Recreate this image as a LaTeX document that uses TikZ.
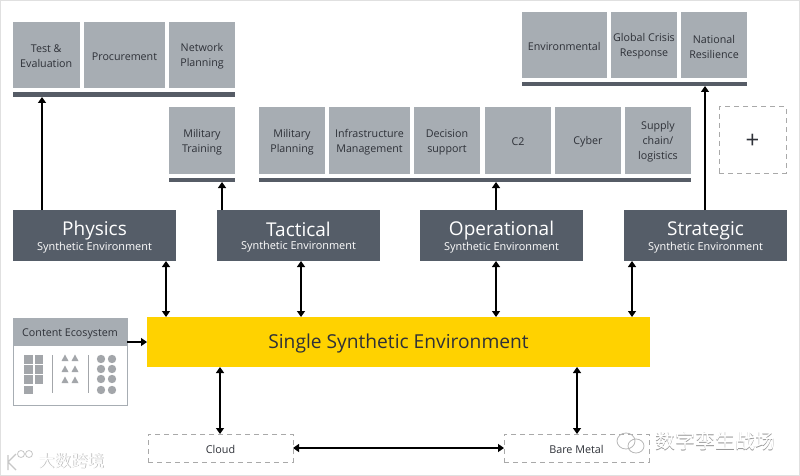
\documentclass[tikz,border=0pt]{standalone}
\usepackage{fontspec}
\setmainfont{Open Sans}
\newfontfamily\cjkfont{Noto Sans CJK SC}
\usetikzlibrary{arrows.meta}
\definecolor{boxgrey}{HTML}{A7ADB3}
\definecolor{bardark}{HTML}{565C66}
\definecolor{headdark}{HTML}{555D68}
\definecolor{inkdark}{HTML}{2E3138}
\definecolor{eyyellow}{HTML}{FFD200}
\definecolor{dashgrey}{HTML}{A9A9A9}
\definecolor{icongrey}{HTML}{A3A6AA}
\tikzset{
  x=1pt,y=-1pt,
  base/.style={inner sep=0pt,outer sep=0pt,align=center,anchor=center},
  gbox/.style={base,fill=boxgrey},
  gtext/.style={base,text=inkdark,font=\fontsize{10.7}{15}\selectfont},
  barbox/.style={base,fill=bardark},
  headbox/.style={base,fill=headdark},
  headtext/.style={base,text=white},
  dashbox/.style={base,draw=dashgrey,line width=1pt,dash pattern=on 5pt off 4pt,fill=white},
  dashtext/.style={base,text=inkdark,font=\fontsize{10.8}{13}\selectfont},
  yellowbox/.style={base,fill=eyyellow},
  yellowtext/.style={base,text=inkdark,font=\fontsize{19.2}{22}\selectfont},
  contentbox/.style={base,draw=boxgrey,line width=1pt,fill=white},
  conn/.style={draw=black,line width=1.3pt,-{Triangle[length=6pt,width=8pt]}},
  biconn/.style={draw=black,line width=1.3pt,{Triangle[length=6pt,width=8pt]}-{Triangle[length=6pt,width=8pt]}},
  wmark/.style={inner sep=0pt,text=white,font=\cjkfont\fontsize{#1}{#1}\selectfont},
}
% box node plus a label node set slightly lower, to match the reference's optical centring
\newcommand{\bx}[8]{%
  \node[#6,minimum width={(#4)-(#2)},minimum height={(#5)-(#3)}] (#1) at ({((#2)+(#4))/2},{((#3)+(#5))/2}) {};%
  \node[#7,yshift=-1.6pt] (#1t) at (#1.center) {#8};}
\newcommand{\hd}[2]{{\fontsize{19}{21}\selectfont #1}\\[1.5pt]{\fontsize{10.9}{13}\selectfont #2}}
\begin{document}
\begin{tikzpicture}
\useasboundingbox (0,0) rectangle (800,476);
\fill[white] (0,0) rectangle (800,476);
\draw[draw=black!12,line width=1.5pt] (0.7,0.7) rectangle (799.3,475.3);
% top-left group
\bx{te}{13}{22}{79.5}{88}{gbox}{gtext}{Test \&\\Evaluation}
\bx{proc}{84}{22}{165}{88}{gbox}{gtext}{Procurement}
\bx{net}{169}{22}{235}{88}{gbox}{gtext}{Network\\Planning}
\node[barbox,minimum width=222,minimum height=5] (barA) at (124,94.5) {};
\bx{mt}{169}{107}{235}{174}{gbox}{gtext}{Military\\Training}
\node[barbox,minimum width=66,minimum height=4] (barB) at (202,180) {};
% middle group
\bx{mp}{259}{107}{325}{174}{gbox}{gtext}{Military\\Planning}
\bx{im}{329}{107}{410}{174}{gbox}{gtext}{Infrastructure\\Management}
\bx{ds}{414}{107}{480}{174}{gbox}{gtext}{Decision\\support}
\bx{ctwo}{485}{107}{551}{174}{gbox}{gtext}{C2}
\bx{cy}{555}{107}{621}{174}{gbox}{gtext}{Cyber}
\bx{sc}{625}{107}{691}{174}{gbox}{gtext}{Supply\\chain/\\logistics}
\node[barbox,minimum width=432,minimum height=4] (barC) at (475,180) {};
% top-right group
\bx{env}{522}{12}{606.5}{78}{gbox}{gtext}{Environmental}
\bx{gc}{611}{12}{677}{78}{gbox}{gtext}{Global Crisis\\Response}
\bx{nr}{681}{12}{747}{78}{gbox}{gtext}{National\\Resilience}
\node[barbox,minimum width=225,minimum height=4] (barD) at (634.5,84) {};
\bx{plus}{719}{107}{786}{173}{dashbox}{dashtext}{{\fontsize{24}{24}\selectfont +}}
% environments
\bx{phys}{13}{210}{176}{261}{headbox}{headtext}{\hd{Physics}{Synthetic Environment}}
\bx{tact}{217}{210}{380}{261}{headbox}{headtext}{\hd{Tactical}{Synthetic Environment}}
\bx{oper}{420}{210}{583}{261}{headbox}{headtext}{\hd{Operational}{Synthetic Environment}}
\bx{strat}{624}{210}{787}{261}{headbox}{headtext}{\hd{Strategic}{Synthetic Environment}}
\bx{sse}{147}{317}{650}{367}{yellowbox}{yellowtext}{Single Synthetic Environment}
\bx{cloud}{148}{434}{293}{462}{dashbox}{dashtext}{Cloud}
\bx{bare}{504}{434}{649}{462}{dashbox}{dashtext}{Bare Metal}
% content ecosystem
\node[contentbox,minimum width=114,minimum height=87] (ce) at (70,361.5) {};
\bx{cehead}{13}{318}{127}{346}{gbox}{gtext}{Content Ecosystem}
\draw[draw=boxgrey,line width=1pt] (13,318) rectangle (127,405);
\foreach \yy in {355,365,375}{
  \fill[icongrey] (24,\yy) rectangle ++(8.5,8.5);
  \fill[icongrey] (34.5,\yy) rectangle ++(8.5,8.5);
}
\fill[icongrey] (24,385.5) rectangle ++(8.5,8.5);
\foreach \yy in {358,369,380}{
  \foreach \xx in {65,75}{
    \fill[icongrey] (\xx-3.5,\yy+3) -- (\xx+3.5,\yy+3) -- (\xx,\yy-3.5) -- cycle;
  }
}
\foreach \yy in {359,369,379,390}{
  \fill[icongrey] (101,\yy) circle[radius=4.2];
  \fill[icongrey] (112,\yy) circle[radius=4.2];
}
\draw[icongrey,line width=1pt] (52,355) -- (52,393);
\draw[icongrey,line width=1pt] (88,355) -- (88,393);
% connectors
\draw[conn] (phys.north -| 42,0) -- (barA.south -| 42,0);
\draw[conn] (tact.north -| 222,0) -- (barB.south -| 222,0);
\draw[conn] (oper.north -| 496,0) -- (barC.south -| 496,0);
\draw[conn] (strat.north -| 705,0) -- (barD.south -| 705,0);
\draw[biconn] (phys.south -| 166,0) -- (sse.north -| 166,0);
\draw[biconn] (tact.south -| 301,0) -- (sse.north -| 301,0);
\draw[biconn] (oper.south -| 496,0) -- (sse.north -| 496,0);
\draw[biconn] (strat.south -| 632,0) -- (sse.north -| 632,0);
\draw[biconn] (sse.south -| 220,0) -- (cloud.north -| 220,0);
\draw[biconn] (sse.south -| 577,0) -- (bare.north -| 577,0);
\draw[biconn] (cloud.east) -- (bare.west);
\draw[conn] (ce.east |- 0,342) -- (sse.west |- 0,342);
% watermarks
\node[wmark=16.5,anchor=west,text=black!30] (wa) at (38.6,461.6) {大数跨境};
\node[wmark=16.5,anchor=west] (wb) at (38,461) {大数跨境};
\node[wmark=20,anchor=west,text=black!42] (wc) at (655.7,441.7) {数字孪生战场};
\node[wmark=20,anchor=west] (wd) at (655,441) {数字孪生战场};
\draw[black!28,line width=0.8pt] (626,441) ellipse[x radius=9,y radius=8];
\draw[black!28,line width=0.8pt] (636,446) ellipse[x radius=8,y radius=7];
\draw[black!22,line width=1.4pt] (8,455) -- (8,470) (8,462) -- (16,454) (8,462) -- (16,470);
\draw[black!22,line width=0.8pt] (21,454) circle[radius=3.5] (29,454) circle[radius=3.5];
\end{tikzpicture}
\end{document}
